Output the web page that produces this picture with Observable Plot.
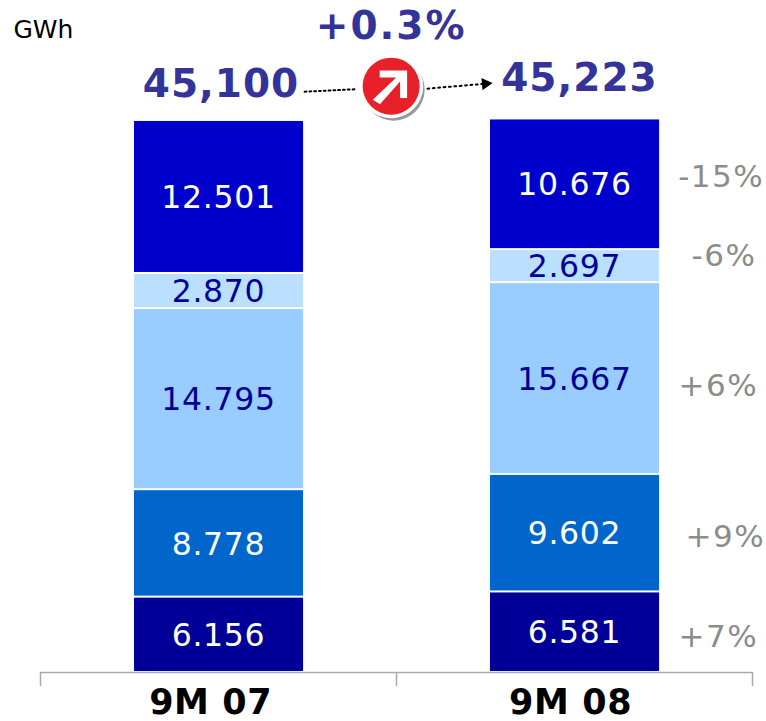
<!DOCTYPE html>
<html>
<head>
<meta charset="utf-8">
<script src="https://cdn.jsdelivr.net/npm/d3@7"></script>
<script src="https://cdn.jsdelivr.net/npm/@observablehq/plot@0.6"></script>
<style>
html,body{margin:0;padding:0;background:#fff}
svg{display:block}
</style>
</head>
<body>
<div id="chart"></div>
<script>
const periods = ["9M 07", "9M 08"];
const periodX = [0.478, 1.489];
const segments = ["base", "second", "third", "fourth", "top"];
const values07 = [6156, 8778, 14795, 2870, 12501];
const values08 = [6581, 9602, 15667, 2697, 10676];
const labels07 = ["6.156", "8.778", "14.795", "2.870", "12.501"];
const labels08 = ["6.581", "9.602", "15.667", "2.697", "10.676"];
const fills = ["#000099", "#0066CC", "#99CCFF", "#BBE0FF", "#0000CC"];
const labelColors = ["#ffffff", "#ffffff", "#000099", "#000099", "#ffffff"];
const changes = ["+7%", "+9%", "+6%", "-6%", "-15%"];
const changeX = [1.904, 1.924, 1.904, 1.92, 1.912];
const changeY = [2900, 11100, 23400, 34000, 40500];
const totals = ["45,100", "45,223"];
const totalX = [0.507, 1.514];
const totalY = [48000, 48550];
const growth = "+0.3%";
const growthX = 0.985;
const growthY = 52800;
const badgeX = 0.985;
const badgeY = 47900;
const dottedIn = [[0.742, 47450], [0.885, 47650]];
const dottedOut = [[1.087, 47700], [1.25, 48100]];

const rows = [];
periods.forEach((p, i) => {
  const vals = i ? values08 : values07;
  const labs = i ? labels08 : labels07;
  segments.forEach((s, j) => rows.push({
    period: i, x1: i + 0.264, x2: i + 0.739, center: i + 0.5,
    segment: s, value: vals[j], label: labs[j], fill: fills[j], color: labelColors[j]
  }));
});

const arrowSymbol = {
  draw(ctx, size) {
    const s = Math.sqrt(size);
    const w = s * 0.11;
    ctx.moveTo(-0.5 * s - w * 0.7, 0.5 * s - w * 0.7);
    ctx.lineTo(0.27 * s - w, -0.27 * s);
    ctx.lineTo(-0.36 * s, -0.27 * s);
    ctx.lineTo(-0.36 * s, -0.49 * s);
    ctx.lineTo(0.5 * s, -0.49 * s);
    ctx.lineTo(0.5 * s, 0.37 * s);
    ctx.lineTo(0.28 * s, 0.37 * s);
    ctx.lineTo(0.28 * s, -0.15 * s);
    ctx.lineTo(-0.35 * s, 0.5 * s + w * 0.6);
    ctx.closePath();
  }
};

const font = "'DejaVu Sans', Verdana, sans-serif";
const navy = "#333399";

const chart = Plot.plot({
  width: 766,
  height: 721,
  marginLeft: 40,
  marginRight: 14,
  marginTop: 0,
  marginBottom: 49,
  style: {background: "#fff", fontFamily: font, overflow: "visible"},
  x: {type: "linear", domain: [0, 2], axis: null},
  y: {domain: [0, 54900], axis: null},
  marks: [
    Plot.rectY(rows, Plot.stackY({
      x: "period", x1: "x1", x2: "x2", y: "value", fill: "fill",
      insetTop: 1, insetBottom: 1
    })),
    Plot.text(rows, Plot.stackY({
      x: "center", y: "value", z: "period", text: "label", fill: "color",
      fontSize: 31.5, dy: 1
    })),
    Plot.axisX({
      ticks: [0, 1, 2], tickSize: 14, tickFormat: () => "", stroke: "#aaaaaa",
      strokeWidth: 1.5, strokeOpacity: 1, anchor: "bottom"
    }),
    Plot.ruleY([0], {stroke: "#aaaaaa", strokeWidth: 1.5}),
    Plot.text(periods, {
      x: (d, i) => periodX[i], y: 0, text: d => d, dy: 30,
      fontSize: 35, fontWeight: "bold", fill: "#000"
    }),
    Plot.text(changes, {
      x: (d, i) => changeX[i], y: (d, i) => changeY[i], text: d => d,
      fontSize: 31, fill: "#8c8c8c"
    }),
    Plot.text(totals, {
      x: (d, i) => totalX[i], y: (d, i) => totalY[i], text: d => d,
      fontSize: 39, fontWeight: "bold", fill: navy
    }),
    Plot.text([growth], {
      x: growthX, y: growthY, text: d => d, fontSize: 39, fontWeight: "bold", fill: navy
    }),
    Plot.text(["GWh"], {
      frameAnchor: "top-left", dx: -27, dy: 20, text: d => d, fontSize: 25, fill: "#000",
      fontFamily: font, textAnchor: "start"
    }),
    Plot.line(dottedIn, {
      x: d => d[0], y: d => d[1], stroke: "#000", strokeWidth: 2,
      strokeDasharray: "1.8 3"
    }),
    Plot.line(dottedOut, {
      x: d => d[0], y: d => d[1], stroke: "#000", strokeWidth: 2,
      strokeDasharray: "1.8 3.6"
    }),
    Plot.dot([dottedOut[1]], {
      x: d => d[0], y: d => d[1], symbol: "triangle", r: 4.6, fill: "#000", stroke: "none",
      rotate: 85
    }),
    Plot.dot([0], {x: badgeX, y: badgeY, r: 31, fill: "#999", dx: 2.5, dy: 3.5, stroke: "none"}),
    Plot.dot([0], {x: badgeX, y: badgeY, r: 32, fill: "#fff", stroke: "none"}),
    Plot.dot([0], {x: badgeX, y: badgeY, r: 28.5, fill: "#E8202A", stroke: "none"}),
    Plot.dot([0], {x: badgeX, y: badgeY, r: 18, symbol: arrowSymbol, fill: "#fff", stroke: "none"})
  ]
});
const spacing = t =>
  changes.includes(t) ? "1.5px" :
  totals.includes(t) ? "1px" :
  t === growth ? "2px" :
  periods.includes(t) ? "0.6px" :
  [...labels07, ...labels08].includes(t) ? "0.7px" : null;
d3.select(chart).selectAll("text").each(function () {
  const s = spacing(this.textContent);
  if (s) this.style.letterSpacing = s;
});
document.getElementById("chart").appendChild(chart);
</script>
</body>
</html>
